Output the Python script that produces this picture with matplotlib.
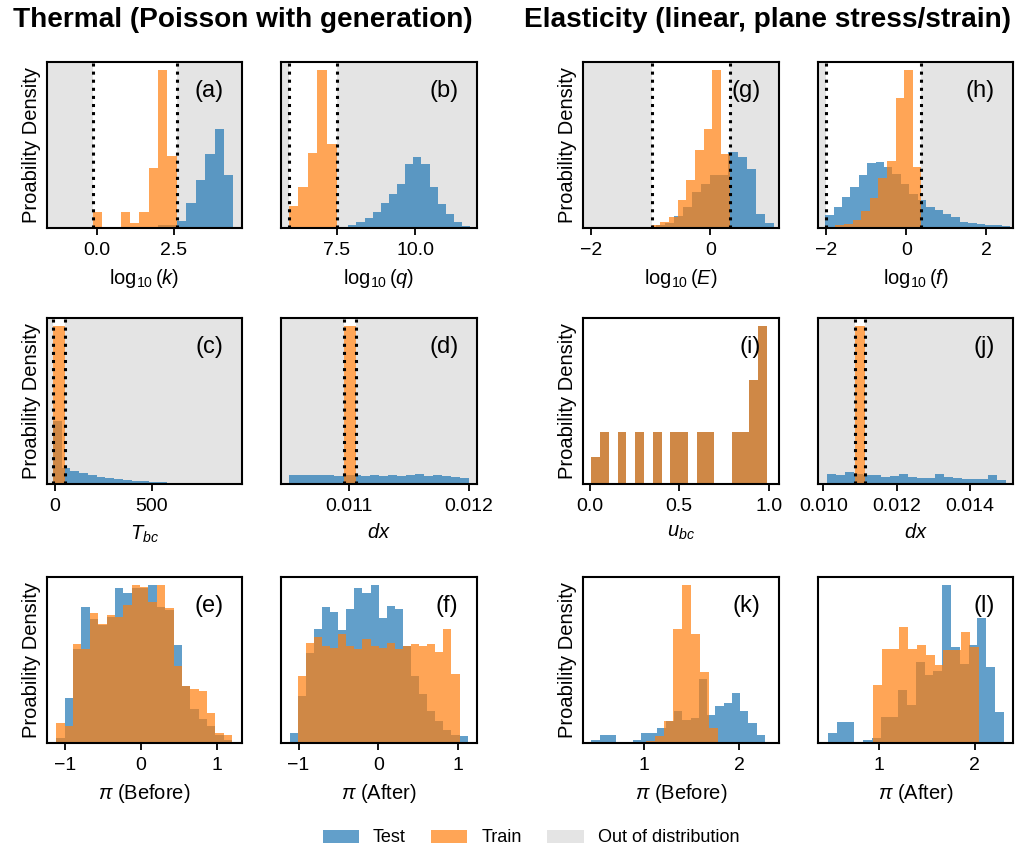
import numpy as np
import matplotlib
matplotlib.use('Agg')
import matplotlib.pyplot as plt
from matplotlib.patches import Patch

plt.rcParams['font.family'] = ['Liberation Sans', 'DejaVu Sans']
plt.rcParams['mathtext.fontset'] = 'custom'
plt.rcParams['mathtext.rm'] = 'Liberation Sans'
plt.rcParams['mathtext.it'] = 'Liberation Sans:italic'
plt.rcParams['mathtext.bf'] = 'Liberation Sans:bold'

# -----------------------------------------------------------------------
# Histogram data (relative densities)
# each series: heights + (first edge, last edge); bins are equal width
# -----------------------------------------------------------------------
# (a) log10(k)
K_TEST = [8, 8, 22, 75, 142, 222, 297, 157]
K_TEST_RANGE = (1.99, 4.45)
K_TRAIN = [47, 0, 0, 47, 14, 47, 180, 472, 214]
K_TRAIN_RANGE = (-0.13, 2.6)

# (b) log10(q)
Q_TEST = [4, 10, 17, 30, 47, 75, 102, 130, 192, 212, 190, 122, 72, 42, 17, 7]
Q_TEST_RANGE = (7.61, 11.76)
Q_TRAIN = [67, 122, 224, 472, 252]
Q_TRAIN_RANGE = (5.96, 7.5)

# (c) T_bc
TBC_TEST = [40, 10, 8.4, 7, 5.8, 4.7, 3.9, 3.2, 2.5, 2.1, 1.7, 1.3, 1.0, 0.8,
            0.6, 0.4, 0.4, 0.2]
TBC_TEST_RANGE = (-9, 800)
TBC_TRAIN = [100]
TBC_TRAIN_RANGE = (-9, 55)

# (d) dx (thermal)
DXT_TEST = [5.5, 6, 5.5, 6, 5.5, 5, 5.5, 6, 5, 5.5, 5, 5.5, 5, 5.5, 6.5, 5,
            5.5, 5, 4.5, 4]
DXT_TEST_RANGE = (0.0105, 0.0120)
DXT_TRAIN = [100]
DXT_TRAIN_RANGE = (0.01096, 0.01106)

# (e) pi (Before), thermal
PBT_TEST = [15, 135, 280, 405, 370, 350, 375, 462, 445, 460, 460, 470, 405,
            395, 290, 170, 100, 70, 50, 25, 10]
PBT_TRAIN = [58, 50, 295, 280, 385, 355, 380, 375, 410, 470, 465, 420, 470,
             400, 230, 170, 160, 155, 90, 30, 25]
PBT_RANGE = (-1.118, 1.20)

# (f) pi (After), thermal
PAT_TEST = [30, 140, 270, 340, 407, 390, 337, 400, 464, 447, 472, 372, 410,
            400, 290, 200, 145, 95, 65, 40, 25, 22]
PAT_TRAIN = [0, 200, 300, 315, 290, 285, 325, 290, 280, 310, 290, 285, 300,
             280, 290, 295, 290, 295, 272, 340, 205, 0]
PAT_RANGE = (-1.113, 1.118)

# (g) log10(E)
E_TEST = [8, 15, 35, 62, 107, 132, 157, 157, 227, 212, 177, 42, 15]
E_TEST_RANGE = (-0.91, 1.06)
E_TRAIN = [8, 17, 32, 84, 144, 232, 297, 472, 222]
E_TRAIN_RANGE = (-0.99, 0.32)

# (h) log10(f)
F_TEST = [38, 63, 93, 123, 158, 193, 198, 183, 163, 133, 103, 83, 63, 53, 43,
          33, 18, 15, 13, 10, 8, 5]
F_TEST_RANGE = (-2.03, 2.6)
F_TRAIN = [8, 13, 23, 50, 90, 150, 200, 388, 473, 183]
F_TRAIN_RANGE = (-1.775, 0.375)

# (i) u_bc (train and test identical)
UBC = [80, 155, 0, 155, 0, 155, 0, 155, 0, 155, 155, 0, 155, 155, 0, 0, 155,
       155, 310, 470]
UBC_RANGE = (0.01, 0.99)

# (j) dx (elasticity)
DXE_TEST = [6.5, 5.5, 7.5, 6.5, 6, 5.5, 4.5, 5, 6.5, 4.5, 3.5, 3.5, 6.5, 4.5,
            3.5, 3, 3, 3, 5.5, 2.5]
DXE_TEST_RANGE = (0.0101, 0.0150)
DXE_TRAIN = [100]
DXE_TRAIN_RANGE = (0.01086, 0.01114)

# (k) pi (Before), elasticity
PBE_TEST = [9, 24, 24, 3, 3, 10, 29, 29, 45, 65, 97, 70, 75, 190, 85, 110,
            118, 150, 95, 60, 25]
PBE_TEST_RANGE = (0.45, 2.27)
PBE_TRAIN = [5, 22, 65, 340, 472, 325, 212, 45]
PBE_TRAIN_RANGE = (1.028, 1.78)

# (l) pi (After), elasticity
PAE_TEST = [29, 62, 62, 0, 9, 15, 77, 77, 157, 112, 242, 202, 215, 472, 287,
            237, 292, 372, 227, 92]
PAE_TEST_RANGE = (0.46, 2.306)
PAE_TRAIN = [172, 282, 282, 347, 282, 292, 262, 232, 277, 277, 332, 287]
PAE_TRAIN_RANGE = (0.93, 2.045)

BLUE = '#1f77b4'
ORANGE = '#ff7f0e'
GRAY = '#d3d3d3'


def edges(heights, rng):
    return np.linspace(rng[0], rng[1], len(heights) + 1)


def draw_panel(ax, test, test_rng, train, train_rng, bounds, xlim, xticks,
               xlabel, tag, ylabel=False):
    if bounds is not None:
        ax.axvspan(xlim[0], bounds[0], color=GRAY, alpha=0.6, lw=0, zorder=0)
        ax.axvspan(bounds[1], xlim[1], color=GRAY, alpha=0.6, lw=0, zorder=0)
    ax.stairs(test, edges(test, test_rng), fill=True, color=BLUE, alpha=0.7,
              lw=0, zorder=1)
    ax.stairs(train, edges(train, train_rng), fill=True, color=ORANGE,
              alpha=0.7, lw=0, zorder=2)
    if bounds is not None:
        for b in bounds:
            ax.axvline(b, color='k', ls=':', lw=2.2, zorder=3)
    ax.set_xlim(xlim)
    ax.set_ylim(0, None)
    ax.set_xticks(xticks)
    ax.set_yticks([])
    ax.set_xlabel(xlabel, fontsize=14.5, labelpad=6)
    if ylabel:
        ax.set_ylabel('Proability Density', fontsize=14.5)
    ax.tick_params(axis='x', labelsize=14, width=1.3, length=5, pad=5)
    for s in ax.spines.values():
        s.set_linewidth(1.5)
    ax.text(0.905, 0.89, tag, transform=ax.transAxes, ha='right', va='top',
            fontsize=17, zorder=4)


fig = plt.figure(figsize=(10.17, 8.58), dpi=100)
W, H = 1017, 858
col_x = [47, 281, 583, 818]
col_w = [195, 196, 196, 195]
row_top = [62, 318, 577]
row_h = 166


def make_ax(r, c):
    return fig.add_axes([col_x[c] / W, 1 - (row_top[r] + row_h) / H,
                         col_w[c] / W, row_h / H])


ax = make_ax(0, 0)
draw_panel(ax, K_TEST, K_TEST_RANGE, K_TRAIN, K_TRAIN_RANGE, K_TRAIN_RANGE,
           (-1.62, 4.73), [0.0, 2.5], r'$\log_{10}(k)$', '(a)', True)
ax.set_xticklabels(['0.0', '2.5'])
ax = make_ax(0, 1)
draw_panel(ax, Q_TEST, Q_TEST_RANGE, Q_TRAIN, Q_TRAIN_RANGE, Q_TRAIN_RANGE,
           (5.72, 11.98), [7.5, 10.0], r'$\log_{10}(q)$', '(b)')
ax.set_xticklabels(['7.5', '10.0'])
ax = make_ax(1, 0)
draw_panel(ax, TBC_TEST, TBC_TEST_RANGE, TBC_TRAIN, TBC_TRAIN_RANGE,
           TBC_TRAIN_RANGE, (-39, 962), [0, 500], r'$T_{bc}$', '(c)', True)
ax = make_ax(1, 1)
draw_panel(ax, DXT_TEST, DXT_TEST_RANGE, DXT_TRAIN, DXT_TRAIN_RANGE,
           DXT_TRAIN_RANGE, (0.01043, 0.01207), [0.011, 0.012], r'$dx$',
           '(d)')
ax.set_xticklabels(['0.011', '0.012'])
ax = make_ax(2, 0)
draw_panel(ax, PBT_TEST, PBT_RANGE, PBT_TRAIN, PBT_RANGE, None,
           (-1.24, 1.33), [-1, 0, 1], r'$\pi$ (Before)', '(e)', True)
ax = make_ax(2, 1)
draw_panel(ax, PAT_TEST, PAT_RANGE, PAT_TRAIN, PAT_RANGE, None,
           (-1.22, 1.235), [-1, 0, 1], r'$\pi$ (After)', '(f)')

ax = make_ax(0, 2)
draw_panel(ax, E_TEST, E_TEST_RANGE, E_TRAIN, E_TRAIN_RANGE, E_TRAIN_RANGE,
           (-2.14, 1.15), [-2, 0], r'$\log_{10}(E)$', '(g)', True)
ax = make_ax(0, 3)
draw_panel(ax, F_TEST, F_TEST_RANGE, F_TRAIN, F_TRAIN_RANGE, (-2.0, 0.375),
           (-2.21, 2.67), [-2, 0, 2], r'$\log_{10}(f)$', '(h)')
ax = make_ax(1, 2)
draw_panel(ax, UBC, UBC_RANGE, UBC, UBC_RANGE, None, (-0.037, 1.058),
           [0.0, 0.5, 1.0], r'$u_{bc}$', '(i)', True)
ax = make_ax(1, 3)
draw_panel(ax, DXE_TEST, DXE_TEST_RANGE, DXE_TRAIN, DXE_TRAIN_RANGE,
           DXE_TRAIN_RANGE, (0.00985, 0.01518), [0.010, 0.012, 0.014],
           r'$dx$', '(j)')
ax.set_xticklabels(['0.010', '0.012', '0.014'])
ax = make_ax(2, 2)
draw_panel(ax, PBE_TEST, PBE_TEST_RANGE, PBE_TRAIN, PBE_TRAIN_RANGE, None,
           (0.363, 2.417), [1, 2], r'$\pi$ (Before)', '(k)', True)
ax = make_ax(2, 3)
draw_panel(ax, PAE_TEST, PAE_TEST_RANGE, PAE_TRAIN, PAE_TRAIN_RANGE, None,
           (0.356, 2.404), [1, 2], r'$\pi$ (After)', '(l)')

fig.text(243 / W, 1 - 20 / H, 'Thermal (Poisson with generation)',
         ha='center', va='center', fontsize=20.2, fontweight='bold')
fig.text(768 / W, 1 - 20 / H, 'Elasticity (linear, plane stress/strain)',
         ha='center', va='center', fontsize=20.2, fontweight='bold')

handles = [Patch(color=BLUE, alpha=0.7, lw=0),
           Patch(color=ORANGE, alpha=0.7, lw=0),
           Patch(color=GRAY, alpha=0.6, lw=0)]
fig.legend(handles, ['Test', 'Train', 'Out of distribution'], loc='center',
           bbox_to_anchor=(531 / W, 1 - 838 / H), ncol=3, frameon=False,
           fontsize=13, columnspacing=1.4)

fig.savefig('out.png', dpi=100)
